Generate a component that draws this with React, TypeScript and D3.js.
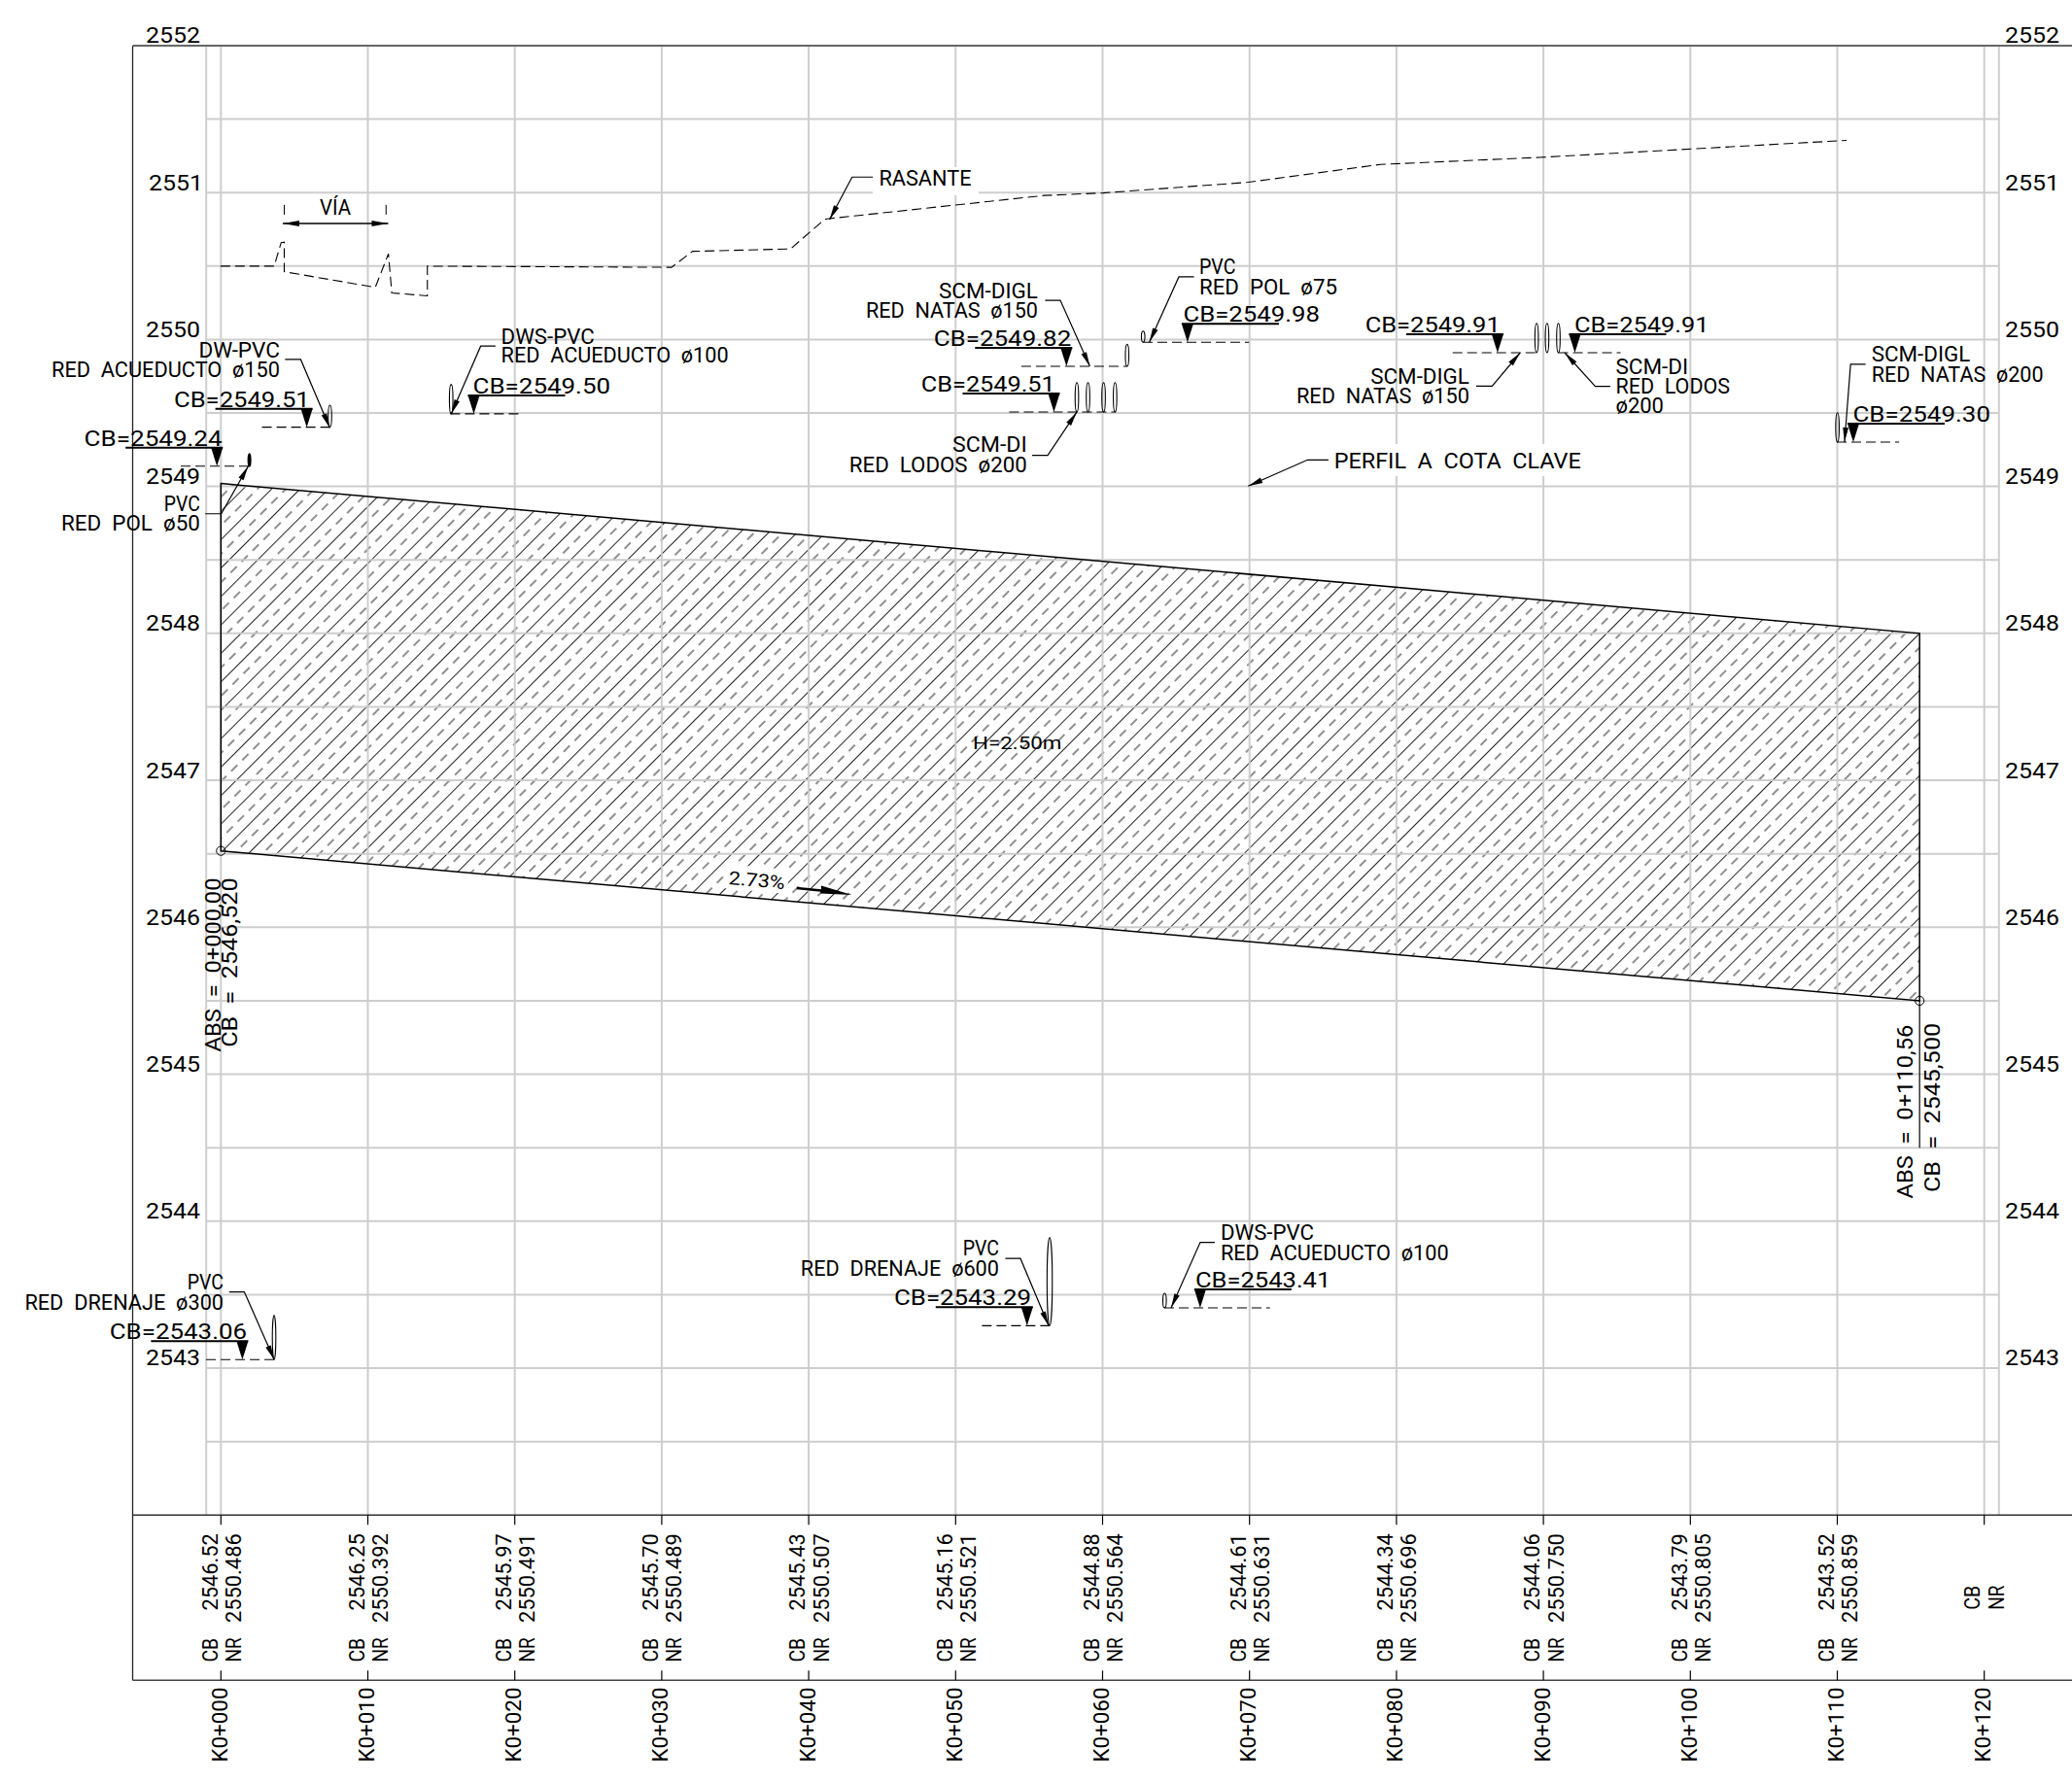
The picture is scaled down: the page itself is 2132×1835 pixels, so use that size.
import React from "react";
import * as d3 from "d3";

// ---------- data ----------
const stations = d3.range(0, 130, 10);
const stationLabels = ["K0+000","K0+010","K0+020","K0+030","K0+040","K0+050","K0+060","K0+070","K0+080","K0+090","K0+100","K0+110","K0+120"];
const cbValues = ["2546.52","2546.25","2545.97","2545.70","2545.43","2545.16","2544.88","2544.61","2544.34","2544.06","2543.79","2543.52"];
const nrValues = ["2550.486","2550.392","2550.491","2550.489","2550.507","2550.521","2550.564","2550.631","2550.696","2550.750","2550.805","2550.859"];
const elevationTicks = [2552,2551,2550,2549,2548,2547,2546,2545,2544,2543];
const gridElevations = d3.range(2542.5, 2552, 0.5);
const gridStations = [-1.0, ...stations, 121.0];

// rasante (station, elevation)
const rasante: [number, number][] = [
  [-0.03,2550.499],[3.62,2550.499],[4.10,2550.659],[4.31,2550.663],[4.31,2550.461],[10.51,2550.355],
  [11.40,2550.583],[11.63,2550.317],[14.05,2550.297],[14.05,2550.499],[30.67,2550.491],[32.10,2550.600],
  [38.76,2550.616],[41.07,2550.816],[41.27,2550.821],[56.04,2550.980],[60.02,2550.997],[69.91,2551.070],
  [78.92,2551.191],[89.73,2551.239],[110.63,2551.355],
];

// excavation: pipe invert and top of hatch
const trenchStations = [0, 115.6];
const trenchBottom = [2546.52, 2545.50];
const trenchTop = [2549.02, 2548.00];

// service crossings
const crossingCB = ["2549.51","2549.24","2549.50","2549.82","2549.51","2549.98","2549.91","2549.91","2549.30","2543.06","2543.29","2543.41"];
const crossingStation = [5.84,-0.27,17.21,57.54,56.69,65.78,86.88,92.14,111.09,1.46,54.86,66.64];
const crossingElevation = [2549.403,2549.138,2549.494,2549.817,2549.507,2549.981,2549.910,2549.910,2549.302,2543.058,2543.289,2543.410];
const crossingPipes = [[7.42],[1.94],[15.67],[61.67],[58.25,59.01,60.07,60.85],[62.76],[],[89.54,90.25,91.02],[110.01],[3.62],[56.40],[64.22]];
const crossingDiameter = [0.15,0.083,0.2,0.15,0.2,0.075,0,0.2,0.2,0.3,0.6,0.1];
const crossingLabels = [
  ["DW-PVC","RED  ACUEDUCTO  ø150"],
  ["PVC","RED  POL  ø50"],
  ["DWS-PVC","RED  ACUEDUCTO  ø100"],
  ["SCM-DIGL","RED  NATAS  ø150"],
  ["SCM-DI","RED  LODOS  ø200"],
  ["PVC","RED  POL  ø75"],
  ["SCM-DIGL","RED  NATAS  ø150"],
  ["SCM-DI","RED  LODOS","ø200"],
  ["SCM-DIGL","RED  NATAS  ø200"],
  ["PVC","RED  DRENAJE  ø300"],
  ["PVC","RED  DRENAJE  ø600"],
  ["DWS-PVC","RED  ACUEDUCTO  ø100"],
];

// ---------- layout ----------
const WIDTH = 2132, HEIGHT = 1835;
const FRAME_LEFT = 136.5, TABLE_BOTTOM = 1729.3;
const FONT = "Roboto, 'Liberation Sans', sans-serif";
const INK = "#000";
const x = d3.scaleLinear().domain([0, 120]).range([227.3, 2041.7]);
const y = d3.scaleLinear().domain([2552, 2542]).range([46.9, 1559.3]);

type Lbl = [number, number, number]; // dx, width, dy
interface CL { side: "L" | "R"; tx: number; tw: number; dash: [number, number]; leader: [number, number][]; labels: Lbl[]; }
const layouts: CL[] = [
  { side:"L", tx:-136.6, tw:139.7, dash:[-46,25], leader:[[-22.3,-69.7],[-6.2,-69.7],[23.7,0.6]], labels:[[-111.1,83.5,-72],[-262.6,235,-51.7]] },
  { side:"L", tx:-136.6, tw:142, dash:[-37.2,34.8], leader:[[-12,49],[4.5,49],[32.2,0]], labels:[[-54.4,37,46.7],[-160.2,142.8,66.5]] },
  { side:"R", tx:-0.9, tw:141.4, dash:[-24.1,46], leader:[[22.3,-69.7],[7.1,-69.7],[-23.2,0]], labels:[[28.1,96,-72.4],[28.1,234,-52.5]] },
  { side:"L", tx:-136.6, tw:141.5, dash:[-46.4,62.7], leader:[[-21.9,-68],[-6.3,-68],[24.1,0]], labels:[[-131.3,101.9,-70],[-206.3,176.9,-50]] },
  { side:"L", tx:-136.6, tw:137.9, dash:[-46,63.8], leader:[[-22.4,44.6],[-6.4,44.6],[23.6,0]], labels:[[-104.4,76.7,41.3],[-210.7,183,61.6]] },
  { side:"R", tx:-4.5, tw:140.6, dash:[-45.9,63.4], leader:[[6.7,-67.3],[-8.9,-67.3],[-39.3,0]], labels:[[12.1,37.4,-70],[12.1,141.9,-49.3]] },
  { side:"L", tx:-136.3, tw:139.1, dash:[-46.2,40], leader:[[-22,34.3],[-5.6,34.3],[23.3,0]], labels:[[-130.7,101.7,32],[-207,178,51.6]] },
  { side:"R", tx:-0.5, tw:138.6, dash:[-16.9,47.1], leader:[[36.4,34.6],[21,34.6],[-10.4,0]], labels:[[42,74.6,22],[42,117.6,42],[42,49.5,62]] },
  { side:"R", tx:-0.5, tw:141.5, dash:[-17,47.2], leader:[[12.6,-80],[-2.8,-80],[-9,0]], labels:[[18.7,101.7,-83],[18.7,176.9,-62.4]] },
  { side:"L", tx:-136.6, tw:141.3, dash:[-37.3,33.4], leader:[[-13.6,-69.7],[2,-69.7],[32.7,0]], labels:[[-56.6,37.3,-72.7],[-224,204.7,-51.7]] },
  { side:"L", tx:-136.8, tw:141, dash:[-46.4,23.2], leader:[[-22.3,-69.2],[-6.8,-69.2],[22.2,0]], labels:[[-66.1,37.3,-72.3],[-233,204.2,-51.3]] },
  { side:"R", tx:-4.9, tw:139.3, dash:[-36.9,71.9], leader:[[15.1,-67.5],[0.1,-67.5],[-29.9,0]], labels:[[21,96.1,-70.1],[21,234.7,-49.5]] },
];

function T({ px, py, w, size = 22, rot = 0, children, anchor }: any) {
  return (
    <text
      transform={`translate(${px},${py}) rotate(${rot})`}
      fontFamily={FONT}
      fontWeight={400}
      fontSize={size}
      fill={INK}
      textLength={w}
      lengthAdjust="spacingAndGlyphs"
      textAnchor={anchor}
      style={{ whiteSpace: "pre" }}
    >
      {children}
    </text>
  );
}

// filled arrow head that ends at (tx,ty), coming from (fx,fy)
function Head({ fx, fy, tx, ty, len = 15, half = 2.9 }: any) {
  const a = Math.atan2(ty - fy, tx - fx);
  const bx = tx - len * Math.cos(a), by = ty - len * Math.sin(a);
  const nx = -Math.sin(a) * half, ny = Math.cos(a) * half;
  return <polygon points={`${tx},${ty} ${bx + nx},${by + ny} ${bx - nx},${by - ny}`} fill="#000" />;
}

function Leader({ ox, oy, pts }: { ox: number; oy: number; pts: [number, number][] }) {
  const abs = pts.map(([a, b]) => [ox + a, oy + b] as [number, number]);
  const line = d3.line()(abs) as string;
  const n = abs.length;
  return (
    <g>
      <path d={line} fill="none" stroke="#000" strokeWidth={1.2} />
      <Head fx={abs[n - 2][0]} fy={abs[n - 2][1]} tx={abs[n - 1][0]} ty={abs[n - 1][1]} />
    </g>
  );
}

function Crossing({ i }: { i: number }) {
  const ax = x(crossingStation[i]);
  const ay = y(crossingElevation[i]);
  const l = layouts[i];
  const [u0, u1] = l.side === "L" ? [-94, 6] : [-6, 94];
  const h = 19;
  const pipeH = crossingDiameter[i] * (y(0) - y(1));
  const rx = crossingDiameter[i] >= 0.5 ? 2.7 : crossingDiameter[i] < 0.09 && i === 1 ? 1 : 1.8;
  return (
    <g>
      <line x1={ax + l.dash[0]} x2={ax + l.dash[1]} y1={ay} y2={ay} stroke="#000" strokeWidth={1.1} strokeDasharray="10 5" />
      <polygon points={`${ax},${ay} ${ax - 6},${ay - h} ${ax + 6},${ay - h}`} fill="#000" />
      <line x1={ax + u0} x2={ax + u1} y1={ay - h} y2={ay - h} stroke="#000" strokeWidth={2} />
      {crossingPipes[i].map((s) => (
        <ellipse key={s} cx={x(s)} cy={ay - pipeH / 2} rx={rx} ry={pipeH / 2} fill="none" stroke="#000" strokeWidth={i === 1 ? 2 : 1.1} />
      ))}
      <Leader ox={ax} oy={ay} pts={l.leader} />
      <T px={ax + l.tx} py={ay - h - 2} w={l.tw}>{`CB=${crossingCB[i]}`}</T>
      {crossingLabels[i].map((t, k) => (
        <T key={k} px={ax + l.labels[k][0]} py={ay + l.labels[k][2]} w={l.labels[k][1]}>{t}</T>
      ))}
    </g>
  );
}

export default function App() {
  const gridX0 = x(gridStations[0]);
  const gridX1 = x(gridStations[gridStations.length - 1]);
  const yTop = y(2552), yBot = y(2542);

  const poly = d3.line()([
    [x(trenchStations[0]), y(trenchTop[0])],
    [x(trenchStations[1]), y(trenchTop[1])],
    [x(trenchStations[1]), y(trenchBottom[1])],
    [x(trenchStations[0]), y(trenchBottom[0])],
  ]) + "Z";
  const rasanteLine = d3.line().x((d) => x(d[0])).y((d) => y(d[1]))(rasante) as string;

  // tips of the free leaders
  const rasTipX = x(41.42), rasTipY = y(2550.816);
  const perTipX = x(69.91), perTipY = y(2549.002);
  const viaL = x(4.21), viaR = x(11.39), viaY = y(2550.79);

  return (
    <svg width={WIDTH} height={HEIGHT} viewBox={`0 0 ${WIDTH} ${HEIGHT}`} style={{ position: "absolute", left: 0, top: 0, display: "block", background: "#fff" }}>
      <defs>
        <pattern id="hatch" width={20.7} height={16} patternUnits="userSpaceOnUse" patternTransform="rotate(45)">
          <line x1={15.3} x2={15.3} y1={0} y2={16} stroke="#222" strokeWidth={1} />
          <line x1={4.95} x2={4.95} y1={0} y2={9} stroke="#222" strokeWidth={1} />
        </pattern>
      </defs>

      {/* hatch under the grid */}
      <path d={poly} fill="url(#hatch)" stroke="none" />
      <g transform={`translate(778,905) rotate(5)`}>
        <rect x={-33} y={-13} width={66} height={25} fill="#fff" />
      </g>

      {/* grid */}
      <g stroke="#ccc" strokeWidth={2} opacity={0.95}>
        {gridElevations.map((e) => (
          <line key={e} x1={gridX0} x2={gridX1} y1={y(e)} y2={y(e)} />
        ))}
        {gridStations.map((s) => (
          <line key={s} x1={x(s)} x2={x(s)} y1={yTop} y2={yBot} />
        ))}
      </g>

      {/* masks behind the free notes */}
      <rect x={898} y={172} width={109} height={29} fill="#fff" />
      <rect x={1367} y={457} width={264} height={33} fill="#fff" />

      {/* frame */}
      <line x1={FRAME_LEFT} x2={FRAME_LEFT} y1={yTop} y2={TABLE_BOTTOM} stroke="#222" strokeWidth={1.3} />
      <line x1={FRAME_LEFT} x2={WIDTH} y1={yTop} y2={yTop} stroke="#666" strokeWidth={2} />
      <line x1={FRAME_LEFT} x2={WIDTH} y1={yBot} y2={yBot} stroke="#333" strokeWidth={1.5} />
      <line x1={FRAME_LEFT} x2={WIDTH} y1={TABLE_BOTTOM} y2={TABLE_BOTTOM} stroke="#444" strokeWidth={1.5} />

      {/* elevation labels */}
      {elevationTicks.map((e) => (
        <g key={e}>
          <T px={e === 2551 ? 153 : 150} py={y(e) - 2.6} w={56}>{String(e)}</T>
          <T px={2063} py={y(e) - 2.6} w={56}>{String(e)}</T>
        </g>
      ))}

      {/* table */}
      {stations.map((s, i) => (
        <g key={s}>
          <line x1={x(s)} x2={x(s)} y1={yBot} y2={yBot + 10} stroke="#000" strokeWidth={1.2} />
          <line x1={x(s)} x2={x(s)} y1={TABLE_BOTTOM - 10} y2={TABLE_BOTTOM} stroke="#000" strokeWidth={1.2} />
          <T px={x(s) + 6.4} py={1813.5} w={77} rot={-90}>{stationLabels[i]}</T>
          {i < cbValues.length ? (
            <g>
              <T px={x(s) - 3.8} py={1710.5} w={24.6} rot={-90}>CB</T>
              <T px={x(s) + 20.5} py={1710.5} w={25.2} rot={-90}>NR</T>
              <T px={x(s) - 3.8} py={1657.5} w={79.2} rot={-90}>{cbValues[i]}</T>
              <T px={x(s) + 20.5} py={1670} w={91.7} rot={-90}>{nrValues[i]}</T>
            </g>
          ) : (
            <g>
              <T px={x(s) - 4.4} py={1656.7} w={25} rot={-90}>CB</T>
              <T px={x(s) + 20} py={1656.7} w={25.2} rot={-90}>NR</T>
            </g>
          )}
        </g>
      ))}

      {/* rasante */}
      <path d={rasanteLine} fill="none" stroke="#000" strokeWidth={1.1} strokeDasharray="10 5" />

      {/* VIA */}
      <line x1={x(4.31)} x2={x(4.31)} y1={viaY - 19} y2={viaY - 9} stroke="#000" strokeWidth={1} />
      <line x1={x(11.24)} x2={x(11.24)} y1={viaY - 19} y2={viaY - 9} stroke="#000" strokeWidth={1} />
      <line x1={viaL} x2={viaR} y1={viaY} y2={viaY} stroke="#000" strokeWidth={1.5} />
      <Head fx={viaR} fy={viaY} tx={viaL} ty={viaY} len={17} half={3} />
      <Head fx={viaL} fy={viaY} tx={viaR} ty={viaY} len={17} half={3} />
      <T px={329} py={viaY - 8.8} w={32}>VÍA</T>

      {/* free leaders */}
      <Leader ox={rasTipX} oy={rasTipY} pts={[[44.6, -43.7], [23.2, -43.7], [0, 0]]} />
      <T px={rasTipX + 50.9} py={rasTipY - 35} w={95}>RASANTE</T>
      <Leader ox={perTipX} oy={perTipY} pts={[[82.6, -27], [61.1, -27], [0, 0]]} />
      <T px={perTipX + 88.4} py={perTipY - 18.7} w={254}>{"PERFIL  A  COTA  CLAVE"}</T>

      {/* crossings */}
      {crossingCB.map((_, i) => (
        <Crossing key={i} i={i} />
      ))}

      {/* trench outline */}
      <path d={poly} fill="none" stroke="#000" strokeWidth={1.5} />
      <circle cx={x(trenchStations[0])} cy={y(trenchBottom[0])} r={4.6} fill="none" stroke="#000" strokeWidth={1} />
      <circle cx={x(trenchStations[1])} cy={y(trenchBottom[1])} r={4.6} fill="none" stroke="#000" strokeWidth={1} />
      <line x1={x(trenchStations[1])} x2={x(trenchStations[1])} y1={y(trenchBottom[1])} y2={y(2544.5)} stroke="#000" strokeWidth={1.2} />

      {/* abscissa notes */}
      <T px={x(0) - 0.6} py={y(trenchBottom[0]) + 206.7} w={178.9} rot={-90}>{"ABS  =  0+000,00"}</T>
      <T px={x(0) + 16.7} py={y(trenchBottom[0]) + 202.1} w={174.3} rot={-90}>{"CB  =  2546,520"}</T>
      <T px={x(trenchStations[1]) - 6.8} py={y(trenchBottom[1]) + 203.6} w={179} rot={-90}>{"ABS  =  0+110,56"}</T>
      <T px={x(trenchStations[1]) + 21.2} py={y(trenchBottom[1]) + 197} w={174} rot={-90}>{"CB  =  2545,500"}</T>

      {/* trench notes */}
      <T px={1001} py={771.4} w={91.5} size={19}>H=2.50m</T>
      <T px={749.3} py={910} w={58} size={19} rot={5}>2.73%</T>
      <polygon points="820,912.8 845,915.2 845,911.5 876.7,921 844.3,919.5 844.3,917.8 819.6,915.2" fill="#000" />
    </svg>
  );
}
